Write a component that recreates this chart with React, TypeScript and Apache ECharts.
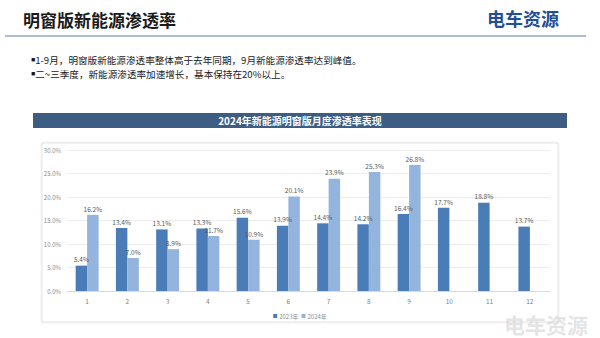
import React, { useEffect, useRef } from "react";
import * as echarts from "echarts";

const months = ["1", "2", "3", "4", "5", "6", "7", "8", "9", "10", "11", "12"];
const values2023 = [5.4, 13.4, 13.1, 13.3, 15.6, 13.9, 14.4, 14.2, 16.4, 17.7, 18.8, 13.7];
const values2024: (number | null)[] = [16.2, 7.0, 8.9, 11.7, 10.9, 20.1, 23.9, 25.3, 26.8, null, null, null];
const seriesNames = ["2023年", "2024年"];
const yTicks = { min: 0, max: 30, interval: 5 };

const FONT = "'Noto Sans CJK SC', 'Noto Sans', sans-serif";

export default function App() {
  const ref = useRef<HTMLDivElement>(null);
  useEffect(() => {
    document.body.style.margin = "0";
    if (!ref.current) return;
    const chart = echarts.init(ref.current, undefined, { renderer: "svg" });
    const labelFmt = (p: any) => (p.value == null ? "" : Number(p.value).toFixed(1) + "%");
    chart.setOption({
      animation: false,
      backgroundColor: "#ffffff",
      textStyle: { fontFamily: FONT },
      grid: { left: 67, right: 50, top: 150, bottom: 47 },
      legend: {
        data: seriesNames,
        top: 308,
        left: "center",
        icon: "rect",
        itemWidth: 4,
        itemHeight: 4,
        itemGap: 3,
        textStyle: { fontSize: 6, color: "#8c8c8c", fontFamily: FONT, padding: [0, 0, 0, -3] },
      },
      xAxis: {
        type: "category",
        data: months,
        axisLine: { lineStyle: { color: "#d9d9d9" } },
        axisTick: { show: false },
        axisLabel: { fontSize: 6.5, color: "#7f7f7f", margin: 7 },
      },
      yAxis: {
        type: "value",
        min: yTicks.min,
        max: yTicks.max,
        interval: yTicks.interval,
        axisLine: { show: false },
        axisTick: { show: false },
        splitLine: { lineStyle: { color: "#ededed" } },
        axisLabel: {
          fontSize: 6,
          color: "#8c8c8c",
          margin: 6,
          formatter: (v: number) => v.toFixed(1) + "%",
        },
      },
      series: [
        {
          name: seriesNames[0],
          type: "bar",
          data: values2023,
          barWidth: "28.5%",
          barGap: "0%",
          itemStyle: { color: "#4a7db8" },
          label: {
            show: true,
            position: "top",
            distance: 3,
            fontSize: 6.5,
            color: "#595959",
            formatter: labelFmt,
          },
        },
        {
          name: seriesNames[1],
          type: "bar",
          data: values2024,
          barWidth: "28.5%",
          barGap: "0%",
          itemStyle: { color: "#93b4dc" },
          label: {
            show: true,
            position: "top",
            distance: 3,
            fontSize: 6.5,
            color: "#595959",
            formatter: labelFmt,
          },
        },
      ],
      graphic: [
        {
          type: "rect",
          z: -1,
          shape: { x: 42, y: 143, width: 516, height: 179 },
          style: { fill: "#ffffff", stroke: "#e3e3e3", lineWidth: 1, shadowBlur: 3, shadowColor: "rgba(0,0,0,0.08)" },
        },
        {
          type: "text",
          left: 23,
          top: 11,
          style: { text: "明窗版新能源渗透率", font: `bold 17px ${FONT}`, fill: "#1a1a1a" },
        },
        {
          type: "line",
          shape: { x1: 5, y1: 36, x2: 586, y2: 36 },
          style: { stroke: "#97a9c2", lineWidth: 1.5 },
        },
        {
          type: "text",
          left: 487,
          top: 9,
          style: {
            text: "电车资源",
            font: `bold 18px ${FONT}`,
            fill: "#1f4f9a",
          },
        },
        {
          type: "text",
          left: 31,
          top: 55,
          style: {
            text: "{b|■}1-9月，明窗版新能源渗透率整体高于去年同期，9月新能源渗透率达到峰值。",
            font: `9.6px ${FONT}`,
            fill: "#1a1a1a",
            rich: { b: { fontSize: 7, fill: "#1a1a1a" } },
          },
        },
        {
          type: "text",
          left: 31,
          top: 69,
          style: {
            text: "{b|■}二~三季度，新能源渗透率加速增长，基本保持在20%以上。",
            font: `9.6px ${FONT}`,
            fill: "#1a1a1a",
            rich: { b: { fontSize: 7, fill: "#1a1a1a" } },
          },
        },
        {
          type: "rect",
          shape: { x: 33, y: 113, width: 534, height: 15 },
          style: { fill: "#3d5d82" },
        },
        {
          type: "text",
          x: 300,
          y: 120.5,
          style: {
            text: "2024年新能源明窗版月度渗透率表现",
            font: `bold 10px ${FONT}`,
            fill: "#ffffff",
            align: "center",
            verticalAlign: "middle",
          },
        },
        {
          type: "text",
          left: 504,
          top: 313,
          style: {
            text: "电车资源",
            font: `bold 21px ${FONT}`,
            fill: "rgba(205,205,205,0.55)",
          },
        },
      ],
    });
    return () => chart.dispose();
  }, []);
  return <div ref={ref} style={{ position: "fixed", left: 0, top: 0, width: 600, height: 338 }} />;
}
